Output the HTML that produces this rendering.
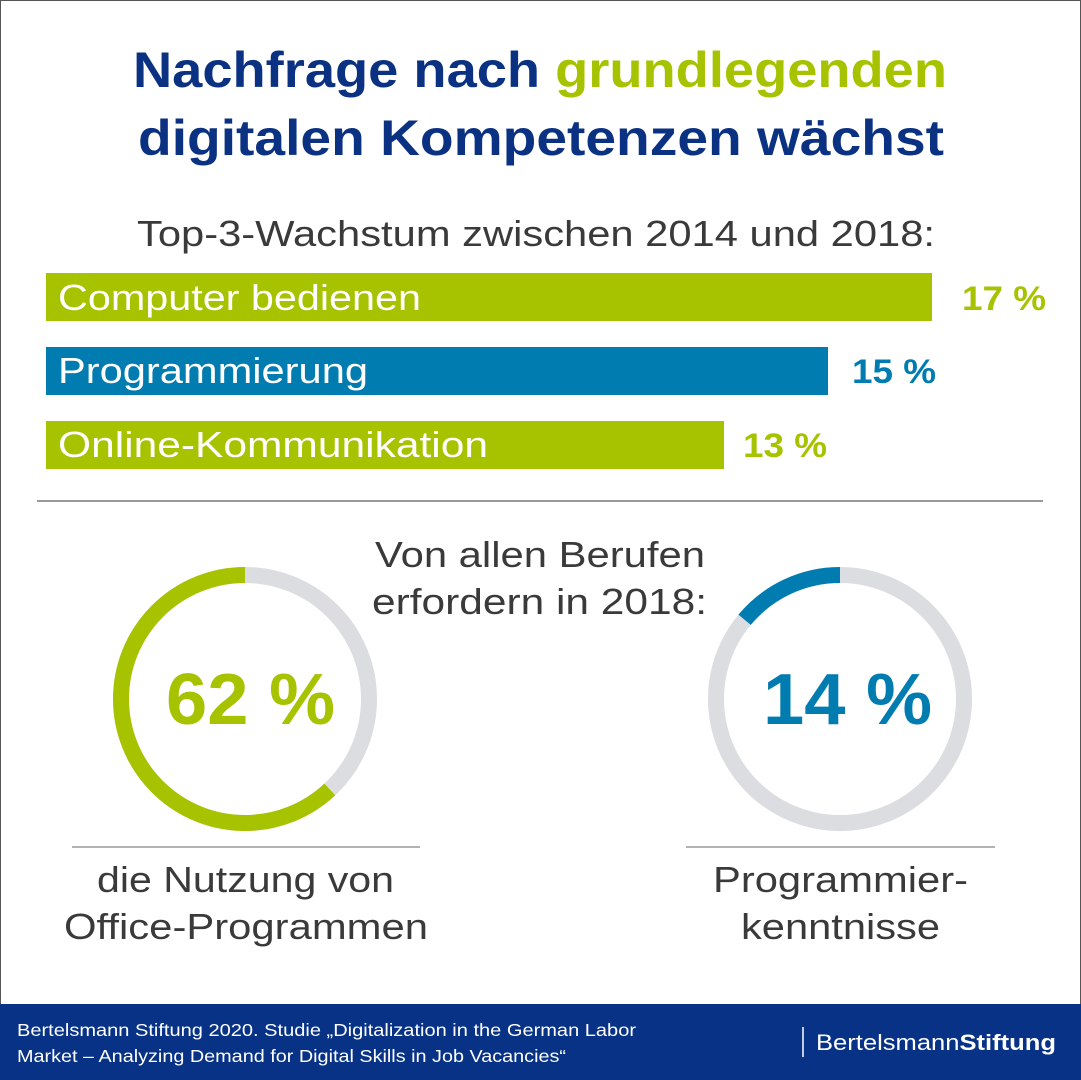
<!DOCTYPE html>
<html><head><meta charset="utf-8"><style>
html,body{margin:0;padding:0;background:#fff}
svg{display:block}
text{font-family:"Liberation Sans",sans-serif}
</style></head><body>
<svg width="1081" height="1080" viewBox="0 0 1081 1080" xmlns="http://www.w3.org/2000/svg">
<rect x="0.5" y="0.5" width="1080" height="1079" fill="#fff" stroke="#555" stroke-width="1"/>
<g font-weight="bold" font-size="50" fill="#0b3282" lengthAdjust="spacingAndGlyphs">
<text x="133" y="87" textLength="814" lengthAdjust="spacingAndGlyphs">Nachfrage nach <tspan fill="#a7c300">grundlegenden</tspan></text>
<text x="138" y="155" textLength="806" lengthAdjust="spacingAndGlyphs">digitalen Kompetenzen wächst</text>
</g>
<text x="137" y="246" font-size="36" fill="#3a3a3a" textLength="798" lengthAdjust="spacingAndGlyphs">Top-3-Wachstum zwischen 2014 und 2018:</text>
<rect x="46" y="273" width="886" height="48" fill="#a7c300"/>
<rect x="46" y="347" width="782" height="48" fill="#007cb0"/>
<rect x="46" y="421" width="678" height="48" fill="#a7c300"/>
<g font-size="36" fill="#fff">
<text x="58" y="310" textLength="363" lengthAdjust="spacingAndGlyphs">Computer bedienen</text>
<text x="58" y="383" textLength="310" lengthAdjust="spacingAndGlyphs">Programmierung</text>
<text x="58" y="457" textLength="430" lengthAdjust="spacingAndGlyphs">Online-Kommunikation</text>
</g>
<g font-size="34" font-weight="bold">
<text x="962" y="310" fill="#a7c300" textLength="84" lengthAdjust="spacingAndGlyphs">17 %</text>
<text x="852" y="383" fill="#007cb0" textLength="84" lengthAdjust="spacingAndGlyphs">15 %</text>
<text x="743" y="457" fill="#a7c300" textLength="84" lengthAdjust="spacingAndGlyphs">13 %</text>
</g>
<line x1="37" y1="501" x2="1043" y2="501" stroke="#999" stroke-width="2"/>
<g font-size="36" fill="#3a3a3a">
<text x="375" y="567" textLength="330" lengthAdjust="spacingAndGlyphs">Von allen Berufen</text>
<text x="372" y="614" textLength="335" lengthAdjust="spacingAndGlyphs">erfordern in 2018:</text>
</g>
<circle cx="245" cy="699" r="124" fill="none" stroke="#dcdde1" stroke-width="16"/>
<circle cx="245" cy="699" r="124" fill="none" stroke="#a7c300" stroke-width="16" stroke-dasharray="483 800" stroke-dashoffset="-296" transform="rotate(-90 245 699)"/>
<circle cx="840" cy="699" r="124" fill="none" stroke="#dcdde1" stroke-width="16"/>
<circle cx="840" cy="699" r="124" fill="none" stroke="#007cb0" stroke-width="16" stroke-dasharray="109 800" stroke-dashoffset="-670" transform="rotate(-90 840 699)"/>
<text x="166" y="724" font-size="72" font-weight="bold" fill="#a7c300" textLength="169" lengthAdjust="spacingAndGlyphs">62 %</text>
<text x="763" y="724" font-size="72" font-weight="bold" fill="#007cb0" textLength="169" lengthAdjust="spacingAndGlyphs">14 %</text>
<line x1="72" y1="847" x2="420" y2="847" stroke="#999" stroke-width="1.5"/>
<line x1="686" y1="847" x2="995" y2="847" stroke="#999" stroke-width="1.5"/>
<g font-size="36" fill="#3a3a3a">
<text x="97" y="892" textLength="297" lengthAdjust="spacingAndGlyphs">die Nutzung von</text>
<text x="64" y="939" textLength="364" lengthAdjust="spacingAndGlyphs">Office-Programmen</text>
<text x="713" y="892" textLength="255" lengthAdjust="spacingAndGlyphs">Programmier-</text>
<text x="741" y="939" textLength="199" lengthAdjust="spacingAndGlyphs">kenntnisse</text>
</g>
<rect x="0" y="1004" width="1081" height="76" fill="#073286"/>
<g font-size="17.5" fill="#fff">
<text x="17" y="1036" textLength="619" lengthAdjust="spacingAndGlyphs">Bertelsmann Stiftung 2020. Studie „Digitalization in the German Labor</text>
<text x="17" y="1062" textLength="549" lengthAdjust="spacingAndGlyphs">Market – Analyzing Demand for Digital Skills in Job Vacancies“</text>
</g>
<line x1="803" y1="1027" x2="803" y2="1057" stroke="#fff" stroke-width="1.5"/>
<text x="816" y="1050" font-size="22" fill="#fff" textLength="240" lengthAdjust="spacingAndGlyphs">Bertelsmann<tspan font-weight="bold">Stiftung</tspan></text>
</svg>
</body></html>
